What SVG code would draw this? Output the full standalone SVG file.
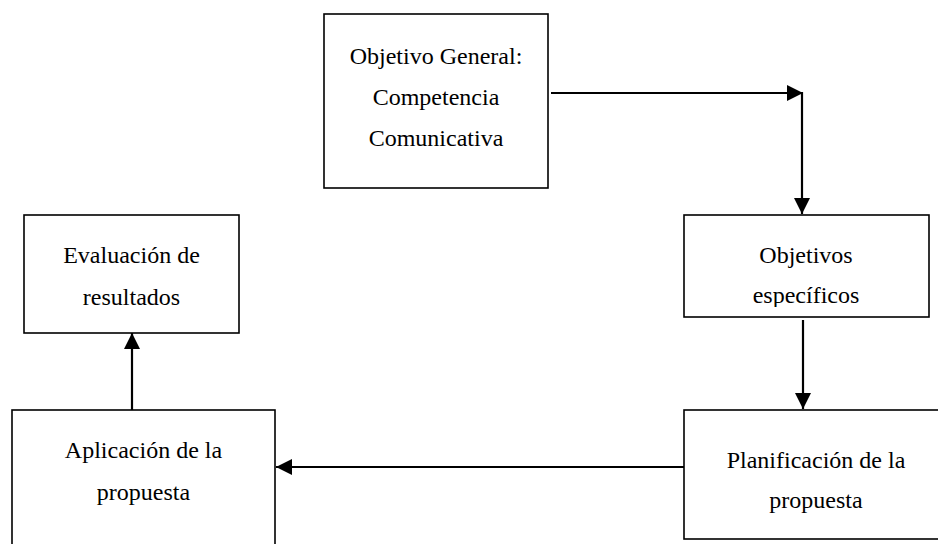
<svg xmlns="http://www.w3.org/2000/svg" width="938" height="544" viewBox="0 0 938 544">
<style>
.box{fill:#fff;stroke:#000;stroke-width:1.6}
.t{font-family:"Liberation Serif","Times New Roman",serif;font-size:24px;fill:#000;text-anchor:middle}
.c{fill:none;stroke:#000;stroke-width:2.2}
</style>
<defs>
<marker id="ah" viewBox="0 0 16 16" refX="16" refY="8" markerWidth="16" markerHeight="16" markerUnits="userSpaceOnUse" orient="auto">
<path d="M0,0 L16,8 L0,16 Z" fill="#000"/>
</marker>
<clipPath id="clipObj"><rect x="684" y="215" width="245" height="92"/></clipPath>
</defs>
<rect width="938" height="544" fill="#fff"/>
<g id="objetivo-general">
<rect class="box" x="324" y="14" width="224" height="174"/>
<text class="t" x="436" y="64">Objetivo General:</text>
<text class="t" x="436" y="105">Competencia</text>
<text class="t" x="436" y="146">Comunicativa</text>
</g>
<g id="objetivos-especificos">
<rect class="box" x="684" y="215" width="245" height="102"/>
<g clip-path="url(#clipObj)">
<text class="t" x="806" y="263">Objetivos</text>
<text class="t" x="806" y="303">específicos</text>
</g>
</g>
<g id="planificacion">
<rect class="box" x="684" y="410" width="270" height="129"/>
<text class="t" x="816" y="468">Planificación de la</text>
<text class="t" x="816" y="508">propuesta</text>
</g>
<g id="aplicacion">
<rect class="box" x="12" y="410" width="263" height="140"/>
<text class="t" x="143.5" y="458">Aplicación de la</text>
<text class="t" x="143.5" y="500">propuesta</text>
</g>
<g id="evaluacion">
<rect class="box" x="24" y="215" width="215" height="118"/>
<text class="t" x="131.5" y="263">Evaluación de</text>
<text class="t" x="131.5" y="305">resultados</text>
</g>
<g id="connectors">
<line class="c" x1="551" y1="93" x2="803" y2="93" marker-end="url(#ah)"/>
<line class="c" x1="802" y1="92" x2="802" y2="214" marker-end="url(#ah)"/>
<line class="c" x1="803" y1="320" x2="803" y2="409" marker-end="url(#ah)"/>
<line class="c" x1="684" y1="467" x2="276" y2="467" marker-end="url(#ah)"/>
<line class="c" x1="132" y1="410" x2="132" y2="333" marker-end="url(#ah)"/>
</g>
</svg>
